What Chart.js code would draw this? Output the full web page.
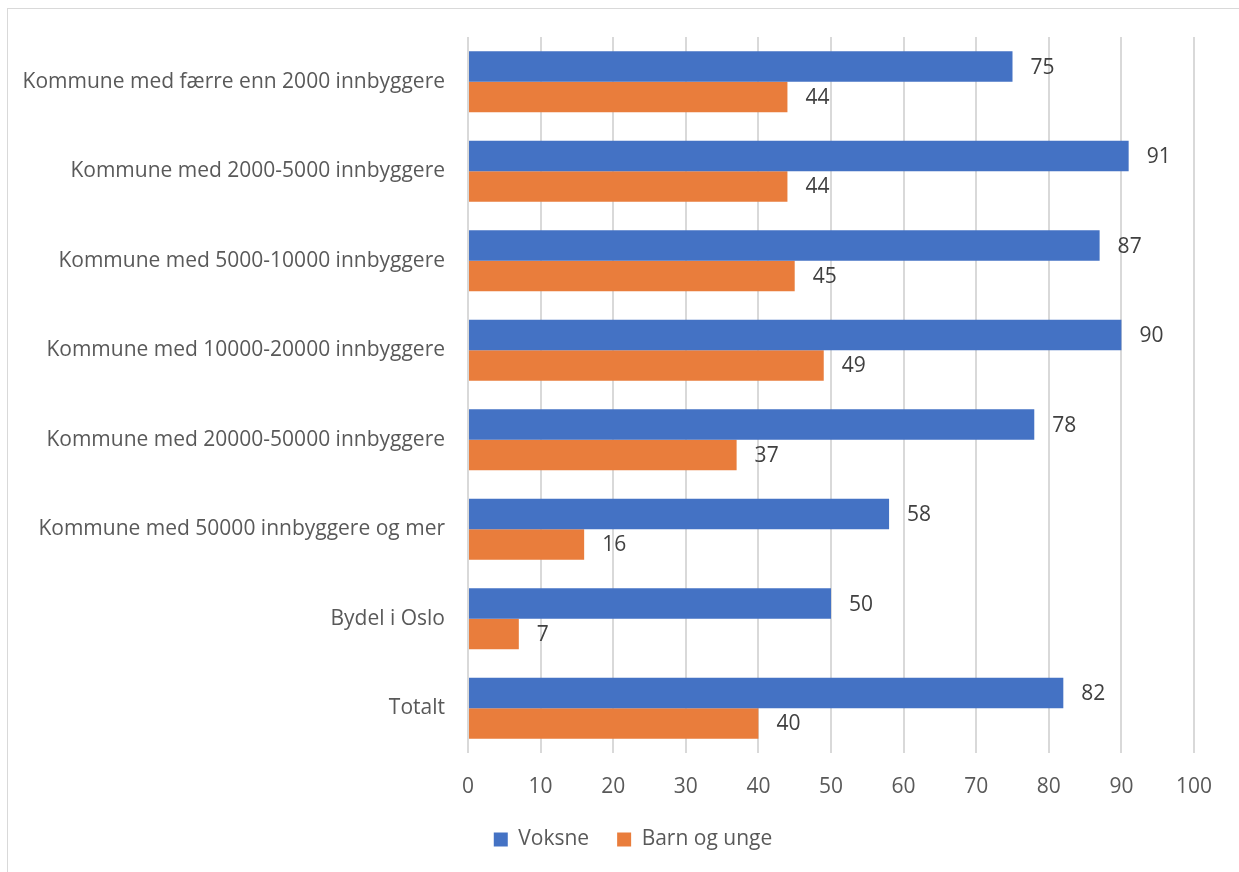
<!DOCTYPE html>
<html>
<head>
<meta charset="utf-8">
<script src="https://cdn.jsdelivr.net/npm/chart.js@4.4.1/dist/chart.umd.min.js"></script>
<style>
  body { margin: 0; background: #fff; }
  #frame { position: absolute; left: 7px; top: 8px; width: 1300px; height: 900px; border: 1px solid #d9d9d9; }
  #wrap { position: absolute; left: 0; top: 0; width: 1239px; height: 872px; }
</style>
</head>
<body>
<div id="frame"></div>
<div id="wrap"><canvas id="kommuneChart" width="1239" height="872"></canvas></div>
<script>
var categories = [
  'Kommune med færre enn 2000 innbyggere',
  'Kommune med 2000-5000 innbyggere',
  'Kommune med 5000-10000 innbyggere',
  'Kommune med 10000-20000 innbyggere',
  'Kommune med 20000-50000 innbyggere',
  'Kommune med 50000 innbyggere og mer',
  'Bydel i Oslo',
  'Totalt'
];
var voksne = [75, 91, 87, 90, 78, 58, 50, 82];
var barnOgUnge = [44, 44, 45, 49, 37, 16, 7, 40];
var xTicks = [0, 10, 20, 30, 40, 50, 60, 70, 80, 90, 100];

var FONT = '"Open Sans", sans-serif';
var SIZE = 21;

// writes the value just past the end of each bar
var valueLabels = {
  id: 'valueLabels',
  afterDatasetsDraw: function(chart) {
    var ctx = chart.ctx;
    ctx.save();
    ctx.font = SIZE + 'px ' + FONT;
    ctx.fillStyle = '#404040';
    ctx.textAlign = 'left';
    ctx.textBaseline = 'middle';
    chart.data.datasets.forEach(function(ds, i) {
      chart.getDatasetMeta(i).data.forEach(function(bar, j) {
        ctx.fillText(ds.data[j], bar.x + 18, bar.y + 1);
      });
    });
    ctx.restore();
  }
};

// nudge the legend right and up a little
var legendShift = {
  id: 'legendShift',
  afterLayout: function(chart) {
    chart.legend.left += 32;
    chart.legend.right += 32;
    chart.legend.top -= 12;
    chart.legend.bottom -= 12;
  }
};

var ctx1 = document.getElementById('kommuneChart').getContext('2d');
var kommuneChart = new Chart(ctx1, {
  type: 'bar',
  data: {
    labels: categories,
    datasets: [{
      label: 'Voksne',
      data: voksne,
      backgroundColor: '#4472C4',
      categoryPercentage: 0.68,
      barPercentage: 1
    }, {
      label: 'Barn og unge',
      data: barnOgUnge,
      backgroundColor: '#E97D3C',
      categoryPercentage: 0.68,
      barPercentage: 1
    }]
  },
  options: {
    indexAxis: 'y',
    responsive: false,
    animation: false,
    layout: {
      padding: { left: 8, right: 45, top: 37, bottom: 0 }
    },
    scales: {
      x: {
        min: 0,
        max: 100,
        afterBuildTicks: function(axis) {
          axis.ticks = xTicks.map(function(v) { return { value: v }; });
        },
        afterFit: function(axis) { axis.height = 60; },
        grid: { color: '#d9d9d9', lineWidth: 2, drawTicks: false },
        border: { display: false },
        ticks: { padding: 21, color: '#595959', font: { family: FONT, size: SIZE } }
      },
      y: {
        afterFit: function(axis) { axis.width = 460; },
        grid: { display: false, drawTicks: false },
        border: { display: false },
        ticks: { padding: 23, color: '#595959', font: { family: FONT, size: SIZE } }
      }
    },
    plugins: {
      legend: {
        position: 'bottom',
        labels: {
          boxWidth: 14,
          boxHeight: 14,
          padding: 28,
          color: '#595959',
          font: { family: FONT, size: SIZE }
        }
      },
      tooltip: { enabled: false }
    }
  },
  plugins: [valueLabels, legendShift]
});
</script>
</body>
</html>
